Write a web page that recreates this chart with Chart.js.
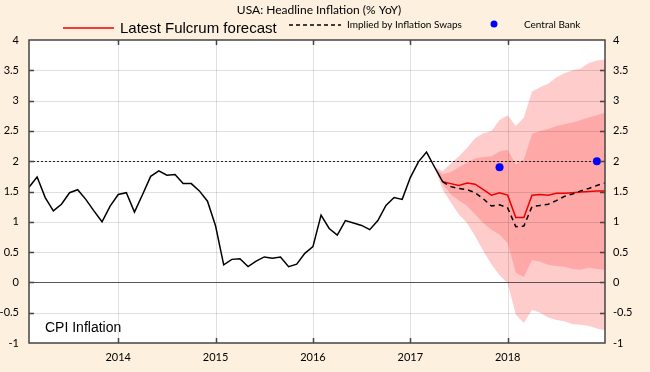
<!DOCTYPE html>
<html>
<head>
<meta charset="utf-8">
<script src="https://cdn.jsdelivr.net/npm/chart.js@4"></script>
<style>
html,body{margin:0;padding:0;background:#fdf0df;}
</style>
</head>
<body>
<canvas id="myChart" width="650" height="372"></canvas>
<script>
// months are counted from Jan 2013 = 0
const yearTicks = [12, 24, 36, 48, 60];
const yearLabels = ['2014', '2015', '2016', '2017', '2018'];

// CPI history, Feb 2013 .. May 2017
const cpiStart = 1;
const cpi = [1.57,1.74,1.40,1.18,1.29,1.48,1.53,1.37,1.18,1.00,1.26,1.45,
  1.48,1.16,1.45,1.75,1.84,1.77,1.78,1.63,1.63,1.51,1.34,0.93,
  0.29,0.38,0.39,0.26,0.35,0.42,0.40,0.42,0.26,0.30,0.48,0.59,
  1.11,0.89,0.78,1.02,0.98,0.94,0.87,1.02,1.27,1.40,1.37,1.73,
  1.99,2.15,1.90,1.66];

// forecasts, May 2017 .. Jan 2019
const fcStart = 52;
const fulcrum = [1.66,1.63,1.60,1.64,1.62,1.53,1.44,1.48,1.44,1.07,1.07,1.44,
  1.45,1.44,1.47,1.47,1.48,1.49,1.50,1.51,1.51];
const swaps = [1.66,1.58,1.55,1.53,1.48,1.38,1.26,1.28,1.23,0.92,0.93,1.25,
  1.27,1.29,1.35,1.42,1.46,1.51,1.55,1.60,1.64];

// fan bands, Apr 2017 .. Jan 2019
const bandStart = 51;
const outerHigh = [1.90,1.84,1.96,2.08,2.22,2.38,2.46,2.50,2.68,2.76,2.58,2.72,3.15,
  3.22,3.28,3.38,3.45,3.50,3.53,3.62,3.66,3.68];
const innerHigh = [1.90,1.78,1.82,1.90,1.98,2.05,2.07,2.08,2.16,2.19,1.95,2.03,2.45,
  2.50,2.53,2.58,2.61,2.64,2.68,2.72,2.76,2.80];
const innerLow = [1.90,1.62,1.45,1.35,1.26,1.12,0.98,0.87,0.79,0.65,0.16,0.09,0.37,
  0.34,0.29,0.27,0.26,0.22,0.21,0.24,0.22,0.21];
const outerLow = [1.90,1.53,1.32,1.12,0.98,0.76,0.52,0.30,0.12,-0.01,-0.53,-0.67,-0.45,
  -0.50,-0.58,-0.62,-0.64,-0.69,-0.70,-0.72,-0.76,-0.79];

// central bank projections
const cbMonths = [59, 71];
const cbValues = [1.90, 2.00];

const BG = '#fdf0df';

function series(start, vals) {
  return vals.map((v, i) => ({x: start + i, y: v}));
}

const lineBase = {pointRadius: 0, borderWidth: 1.5, fill: false, tension: 0};

const data = {
  datasets: [
    Object.assign({label: 'CPI Inflation', data: series(cpiStart, cpi), borderColor: '#000', order: 0}, lineBase),
    Object.assign({label: 'Implied by Inflation Swaps', data: series(fcStart, swaps), borderColor: '#000', borderDash: [5, 4], order: 0}, lineBase),
    Object.assign({label: 'Latest Fulcrum forecast', data: series(fcStart, fulcrum), borderColor: '#ee0000', order: 0}, lineBase),
    {label: 'Central Bank', data: cbMonths.map((m, i) => ({x: m, y: cbValues[i]})), showLine: false,
      pointRadius: 4, pointBackgroundColor: '#0000ff', pointBorderWidth: 0, borderColor: '#0000ff', order: 0},
    {label: 'inner high', data: series(bandStart, innerHigh), pointRadius: 0, borderWidth: 0,
      fill: 5, backgroundColor: 'rgb(255,168,168)', order: 1},
    {label: 'inner low', data: series(bandStart, innerLow), pointRadius: 0, borderWidth: 0, fill: false, order: 1},
    {label: 'outer high', data: series(bandStart, outerHigh), pointRadius: 0, borderWidth: 0,
      fill: 7, backgroundColor: 'rgb(255,204,204)', order: 2},
    {label: 'outer low', data: series(bandStart, outerLow), pointRadius: 0, borderWidth: 0, fill: false, order: 2}
  ]
};

const frame = {
  id: 'frame',
  beforeDraw(chart) {
    const {ctx, chartArea: a} = chart;
    ctx.save();
    ctx.fillStyle = BG;
    ctx.fillRect(0, 0, chart.width, chart.height);
    ctx.fillStyle = '#fff';
    ctx.fillRect(a.left, a.top, a.right - a.left, a.bottom - a.top);
    ctx.restore();
  },
  beforeDatasetsDraw(chart) {
    // grid on top of the fan, under the lines
    const {ctx, chartArea: a, scales} = chart;
    const x = scales.x, y = scales.y;
    ctx.save();
    ctx.lineWidth = 1;
    ctx.strokeStyle = 'rgba(0,0,0,0.12)';
    ctx.beginPath();
    for (let v = -0.5; v < 4; v += 0.5) {
      const py = Math.round(y.getPixelForValue(v)) + 0.5;
      ctx.moveTo(a.left, py); ctx.lineTo(a.right, py);
    }
    yearTicks.forEach(t => {
      const px = Math.round(x.getPixelForValue(t)) + 0.5;
      ctx.moveTo(px, a.top); ctx.lineTo(px, a.bottom);
    });
    ctx.stroke();
    // zero line
    ctx.strokeStyle = '#555';
    ctx.beginPath();
    const z = Math.round(y.getPixelForValue(0)) + 0.5;
    ctx.moveTo(a.left, z); ctx.lineTo(a.right, z);
    ctx.stroke();
    // 2% line
    ctx.strokeStyle = '#222';
    ctx.setLineDash([2, 2]);
    ctx.beginPath();
    const t2 = Math.round(y.getPixelForValue(2)) + 0.5;
    ctx.moveTo(a.left, t2); ctx.lineTo(a.right, t2);
    ctx.stroke();
    ctx.restore();
  },
  afterDatasetsDraw(chart) {
    const {ctx, chartArea: a, scales} = chart;
    const x = scales.x, y = scales.y;
    ctx.save();
    ctx.strokeStyle = '#444';
    ctx.lineWidth = 1.5;
    ctx.strokeRect(a.left, a.top, a.right - a.left, a.bottom - a.top);
    ctx.beginPath();
    for (let v = -0.5; v < 4; v += 0.5) {
      const py = Math.round(y.getPixelForValue(v)) + 0.5;
      ctx.moveTo(a.left, py); ctx.lineTo(a.left + 5, py);
      ctx.moveTo(a.right, py); ctx.lineTo(a.right - 5, py);
    }
    yearTicks.forEach(t => {
      const px = Math.round(x.getPixelForValue(t)) + 0.5;
      ctx.moveTo(px, a.top); ctx.lineTo(px, a.top + 5);
      ctx.moveTo(px, a.bottom); ctx.lineTo(px, a.bottom - 5);
    });
    ctx.stroke();
    ctx.fillStyle = '#000';
    ctx.font = '14px "Liberation Sans", Arial';
    ctx.textBaseline = 'middle';
    ctx.fillText('CPI Inflation', a.left + 16, 328);
    ctx.restore();
  },
  afterDraw(chart) {
    const ctx = chart.ctx;
    ctx.save();
    ctx.fillStyle = '#000';
    ctx.textBaseline = 'middle';
    ctx.textAlign = 'center';
    ctx.font = '12px Lato';
    ctx.fillText('USA: Headline Inflation (% YoY)', 319, 10);
    ctx.textAlign = 'left';
    // legend
    ctx.lineWidth = 1.5;
    ctx.strokeStyle = '#ee0000';
    ctx.beginPath(); ctx.moveTo(63, 28); ctx.lineTo(114, 28); ctx.stroke();
    ctx.font = '15px "Liberation Sans", Arial';
    ctx.fillText('Latest Fulcrum forecast', 120, 29);
    ctx.strokeStyle = '#000';
    ctx.setLineDash([4, 3]);
    ctx.beginPath(); ctx.moveTo(289, 25); ctx.lineTo(341, 25); ctx.stroke();
    ctx.setLineDash([]);
    ctx.font = '10px Lato';
    ctx.fillText('Implied by Inflation Swaps', 347, 25);
    ctx.fillStyle = '#0000ff';
    ctx.beginPath(); ctx.arc(494, 24, 3.5, 0, Math.PI * 2); ctx.fill();
    ctx.fillStyle = '#000';
    ctx.fillText('Central Bank', 524, 25);
    ctx.restore();
  }
};

const tickFont = {family: 'Lato', size: 11};
const fmt = v => String(Number(v.toFixed(1)));

const config = {
  type: 'line',
  data,
  options: {
    responsive: false,
    animation: false,
    layout: {padding: {top: 40, left: 0, right: 0, bottom: 0}},
    plugins: {
      legend: {display: false},
      tooltip: {enabled: false},
      filler: {drawTime: 'beforeDatasetsDraw'}
    },
    scales: {
      x: {
        type: 'linear', min: 1, max: 72,
        grid: {display: false, drawTicks: false},
        border: {display: false},
        afterBuildTicks: s => { s.ticks = yearTicks.map(v => ({value: v})); },
        afterFit: s => { s.height = 29; },
        ticks: {
          color: '#000', font: tickFont, padding: 8, maxRotation: 0,
          callback: v => yearLabels[yearTicks.indexOf(v)]
        }
      },
      y: {
        position: 'left', min: -1, max: 4,
        grid: {display: false, drawTicks: false},
        border: {display: false},
        afterFit: s => { s.width = 29; },
        ticks: {stepSize: 0.5, color: '#000', font: tickFont, padding: 10, callback: fmt}
      },
      y2: {
        position: 'right', min: -1, max: 4,
        grid: {display: false, drawTicks: false},
        border: {display: false},
        afterFit: s => { s.width = 45; },
        ticks: {stepSize: 0.5, color: '#000', font: tickFont, padding: 8, callback: fmt}
      }
    }
  },
  plugins: [frame]
};

const myChart = new Chart(document.getElementById('myChart'), config);
</script>
</body>
</html>
